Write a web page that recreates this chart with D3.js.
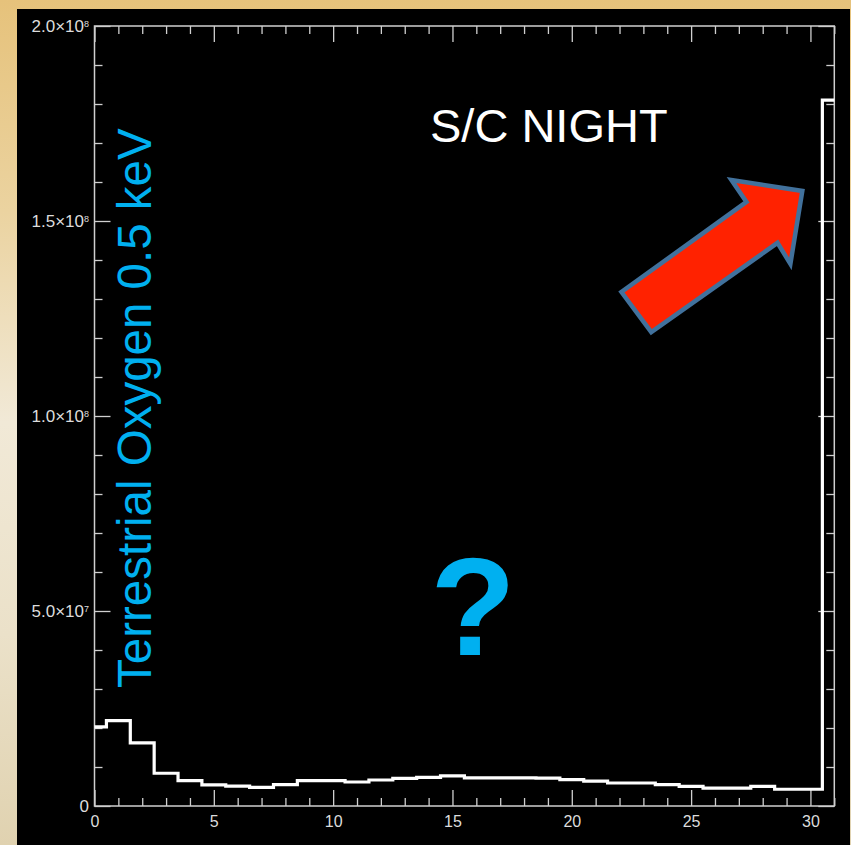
<!DOCTYPE html>
<html>
<head>
<meta charset="utf-8">
<script src="https://cdn.jsdelivr.net/npm/d3@7"></script>
<style>
  html, body { margin: 0; padding: 0; background: #000; }
  svg { display: block; }
</style>
</head>
<body>
<svg id="chart" width="851" height="845"></svg>
<script>
// Energy-bin index (x) and counts per bin (y)
const bins = d3.range(0, 32);
const counts = [
  2.03e7, 2.19e7, 1.62e7, 8.4e6, 6.5e6, 5.4e6, 5.1e6, 4.8e6,
  5.5e6, 6.5e6, 6.5e6, 6.15e6, 6.67e6, 7.1e6, 7.36e6, 7.7e6,
  7.2e6, 7.2e6, 7.2e6, 7.15e6, 6.75e6, 6.4e6, 5.9e6, 5.9e6,
  5.5e6, 5.05e6, 4.6e6, 4.6e6, 5.05e6, 4.3e6, 4.3e6, 1.81e8
];

// Axis ticks
const xMajorTicks = [0, 5, 10, 15, 20, 25, 30];
const xTickLabels = ["0", "5", "10", "15", "20", "25", "30"];
const yMajorTicks = [0, 5e7, 1e8, 1.5e8, 2e8];
const yTickMantissa = ["0", "5.0\u00d710", "1.0\u00d710", "1.5\u00d710", "2.0\u00d710"];
const yTickExponent = ["", "7", "8", "8", "8"];

// Annotations
const titleText = "S/C NIGHT";
const speciesText = "Terrestrial Oxygen 0.5 keV";
const questionText = "?";
// Arrow outline in data units [bin, counts]
const arrowX = [22.08, 23.33, 28.62, 29.16, 29.66, 26.69, 27.32];
const arrowY = [1.318e8, 1.215e8, 1.444e8, 1.390e8, 1.577e8, 1.605e8, 1.549e8];

const W = 851, H = 845;
const plot = { left: 94.5, right: 834.3, top: 26, bottom: 806 };

const svg = d3.select("#chart");

// Page background
const defs = svg.append("defs");
const grad = defs.append("linearGradient")
  .attr("id", "bg").attr("x1", 0).attr("y1", 0).attr("x2", 0).attr("y2", 1);
[["0%", "#e6c27b"], ["25%", "#ebd3a0"], ["50%", "#f1e9d7"], ["75%", "#ebe1c9"], ["100%", "#e0d2b0"]]
  .forEach(([o, c]) => grad.append("stop").attr("offset", o).attr("stop-color", c));
svg.append("rect").attr("width", W).attr("height", H).attr("fill", "url(#bg)");

// Black panel
svg.append("rect")
  .attr("x", 17).attr("y", 9).attr("width", 833).attr("height", H - 9)
  .attr("fill", "#000");

const x = d3.scaleLinear().domain([0, 31]).range([plot.left, plot.right]);
const y = d3.scaleLinear().domain([0, 2e8]).range([plot.bottom, plot.top]);

const axisColor = "#cfcfcf";
const labelFont = "'Liberation Sans', Arial, sans-serif";

const xMinor = bins.filter(v => !xMajorTicks.includes(v));
const yMinor = d3.range(0, 2.01e8, 1e7).map(v => Math.round(v)).filter(v => !yMajorTicks.includes(v));

function styleAxis(g) {
  g.select(".domain").remove();
  g.selectAll(".tick line").attr("stroke", axisColor).attr("stroke-width", 1.3);
  g.selectAll("text").attr("fill", "#dcdcdc").attr("font-family", labelFont);
}

// Bottom axis with labels
svg.append("g").attr("transform", `translate(0,${plot.bottom})`)
  .call(d3.axisBottom(x).tickValues(xMajorTicks).tickSize(-16).tickPadding(10)
    .tickFormat((d, i) => xTickLabels[i]))
  .call(styleAxis)
  .call(g => g.selectAll("text").attr("font-size", 16));
svg.append("g").attr("transform", `translate(0,${plot.bottom})`)
  .call(d3.axisBottom(x).tickValues(xMinor).tickSize(-8).tickFormat(""))
  .call(styleAxis);

// Top axis (ticks only)
svg.append("g").attr("transform", `translate(0,${plot.top})`)
  .call(d3.axisTop(x).tickValues(xMajorTicks).tickSize(-16).tickFormat(""))
  .call(styleAxis);
svg.append("g").attr("transform", `translate(0,${plot.top})`)
  .call(d3.axisTop(x).tickValues(xMinor).tickSize(-8).tickFormat(""))
  .call(styleAxis);

// Left axis with labels
const yAxisG = svg.append("g").attr("transform", `translate(${plot.left},0)`)
  .call(d3.axisLeft(y).tickValues(yMajorTicks).tickSize(-16).tickPadding(5.5)
    .tickFormat((d, i) => yTickMantissa[i]))
  .call(styleAxis);
yAxisG.selectAll(".tick text")
  .attr("font-size", 17)
  .each(function (d, i) {
    const exp = yTickExponent[i];
    if (exp) {
      d3.select(this).append("tspan")
        .attr("dy", "-0.55em").attr("font-size", 9).text(exp);
    }
  });
svg.append("g").attr("transform", `translate(${plot.left},0)`)
  .call(d3.axisLeft(y).tickValues(yMinor).tickSize(-8).tickFormat(""))
  .call(styleAxis);

// Right axis (ticks only)
svg.append("g").attr("transform", `translate(${plot.right},0)`)
  .call(d3.axisRight(y).tickValues(yMajorTicks).tickSize(-16).tickFormat(""))
  .call(styleAxis);
svg.append("g").attr("transform", `translate(${plot.right},0)`)
  .call(d3.axisRight(y).tickValues(yMinor).tickSize(-8).tickFormat(""))
  .call(styleAxis);

// Plot frame
svg.append("rect")
  .attr("x", plot.left).attr("y", plot.top)
  .attr("width", plot.right - plot.left).attr("height", plot.bottom - plot.top)
  .attr("fill", "none").attr("stroke", axisColor).attr("stroke-width", 1.5);

// Histogram (centered steps)
const line = d3.line()
  .x((d, i) => x(bins[i]))
  .y(d => y(d))
  .curve(d3.curveStep);
svg.append("path")
  .datum(counts)
  .attr("d", line)
  .attr("fill", "none")
  .attr("stroke", "#ffffff")
  .attr("stroke-width", 3.2)
  .attr("stroke-linejoin", "miter");

// Annotations
svg.append("text")
  .attr("x", 430).attr("y", 141.7)
  .attr("font-family", labelFont).attr("font-size", 47)
  .attr("fill", "#ffffff")
  .text(titleText);

svg.append("text")
  .attr("transform", "translate(151,688) rotate(-90)")
  .attr("font-family", labelFont).attr("font-size", 47.5)
  .attr("fill", "#00b0f0")
  .text(speciesText);

svg.append("text")
  .attr("x", 473).attr("y", 655)
  .attr("text-anchor", "middle")
  .attr("font-family", labelFont).attr("font-size", 140).attr("font-weight", "bold")
  .attr("fill", "#00b0f0")
  .text(questionText);

const arrowPts = arrowX.map((v, i) => [x(v), y(arrowY[i])]);
svg.append("polygon")
  .attr("points", arrowPts.map(p => p.join(",")).join(" "))
  .attr("fill", "#ff2200")
  .attr("stroke", "#41719c")
  .attr("stroke-width", 4.5)
  .attr("stroke-linejoin", "miter");
</script>
</body>
</html>
